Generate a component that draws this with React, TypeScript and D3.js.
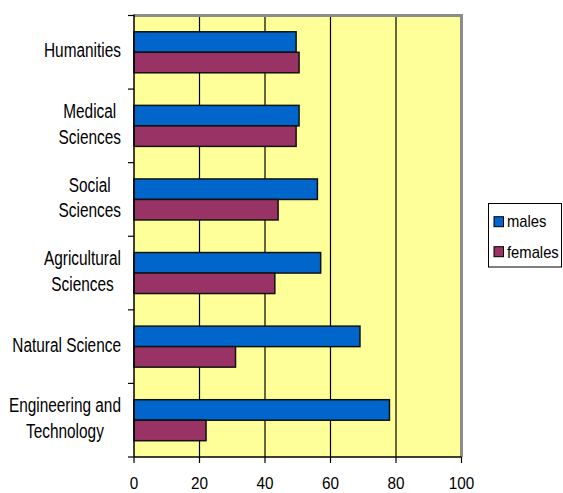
import React from "react";
import * as d3 from "d3";

const categories = [
  "Humanities",
  "Medical Sciences",
  "Social Sciences",
  "Agricultural Sciences",
  "Natural Science",
  "Engineering and Technology",
];
const categoryLines = [
  ["Humanities"],
  ["Medical", "Sciences"],
  ["Social", "Sciences"],
  ["Agricultural", "Sciences"],
  ["Natural Science"],
  ["Engineering and", "Technology"],
];
const males = [49.5, 50.4, 56, 57, 69, 78];
const females = [50.4, 49.5, 44, 43, 31, 22];
const seriesNames = ["males", "females"];
const seriesColors = ["#0066CC", "#993366"];
const xTicks = [0, 20, 40, 60, 80, 100];

const W = 563;
const H = 493;
const left = 134;
const right = 461.5;
const top = 15.5;
const bottom = 457;

const FONT = "'Liberation Sans', Arial, sans-serif";

let canvasCtx: CanvasRenderingContext2D | null = null;
function measure(text: string, size: number): number {
  if (!canvasCtx) {
    const c = document.createElement("canvas");
    canvasCtx = c.getContext("2d");
  }
  if (!canvasCtx) return text.length * size * 0.5;
  canvasCtx.font = `${size}px 'Liberation Sans', Arial, sans-serif`;
  return canvasCtx.measureText(text).width;
}

export default function App() {
  const x = d3.scaleLinear().domain([0, 100]).range([left, right]);
  const y = d3.scaleBand<string>().domain(categories).range([top, bottom]).paddingInner(0).paddingOuter(0);
  const inner = d3
    .scaleBand<string>()
    .domain(seriesNames)
    .range([0, y.bandwidth()])
    .paddingInner(0)
    .paddingOuter(0.795);

  const labelSize = 20;
  const labelScaleX = 0.77;
  const labelRight = 121;
  const lineGap = 25.6;

  const tickSize = 17;
  const tickScaleX = 0.9;

  const legSize = 17;
  const legScaleX = 0.87;

  const data = [males, females];

  return (
    <svg
      width={W}
      height={H}
      style={{ position: "absolute", left: 0, top: 0, background: "#fff" }}
      fontFamily={FONT}
    >
      <rect x={0} y={0} width={W} height={H} fill="#fff" />
      {/* plot area */}
      <rect x={left} y={top} width={right - left} height={bottom - top} fill="#FFFF99" />
      {/* gridlines */}
      {xTicks
        .filter((t) => t > 0 && t < 100)
        .map((t) => (
          <line key={"g" + t} x1={x(t)} x2={x(t)} y1={top} y2={bottom} stroke="#000" strokeWidth={1.2} />
        ))}
      {/* frame top/right */}
      <line x1={left} x2={right + 1.5} y1={top} y2={top} stroke="#8c8c8c" strokeWidth={3} />
      <line x1={right} x2={right} y1={top} y2={bottom} stroke="#8c8c8c" strokeWidth={3} />
      {/* bars */}
      {categories.map((c, i) =>
        seriesNames.map((s, j) => {
          const v = data[j][i];
          return (
            <rect
              key={c + s}
              x={x(0)}
              y={(y(c) as number) + (inner(s) as number)}
              width={x(v) - x(0)}
              height={inner.bandwidth()}
              fill={seriesColors[j]}
              stroke="#111"
              strokeWidth={1.5}
            />
          );
        })
      )}
      {/* axes */}
      <line x1={left} x2={left} y1={top - 1} y2={bottom} stroke="#000" strokeWidth={1.5} />
      <line x1={left} x2={right} y1={bottom} y2={bottom} stroke="#000" strokeWidth={1.5} />
      {/* category ticks */}
      {categories.map((c) => (
        <line key={"ct" + c} x1={left - 6} x2={left} y1={y(c) as number} y2={y(c) as number} stroke="#000" strokeWidth={1.2} />
      ))}
      <line x1={left - 6} x2={left} y1={bottom} y2={bottom} stroke="#000" strokeWidth={1.2} />
      {/* value ticks */}
      {xTicks.map((t) => (
        <g key={"vt" + t}>
          <line x1={x(t)} x2={x(t)} y1={bottom} y2={bottom + 6} stroke="#000" strokeWidth={1.2} />
          <text
            transform={`translate(${x(t)},${489}) scale(${tickScaleX},1)`}
            textAnchor="middle"
            fontSize={tickSize}
            fill="#000"
          >
            {t}
          </text>
        </g>
      ))}
      {/* category labels */}
      {categories.map((c, i) => {
        const lines = categoryLines[i];
        const maxW = d3.max(lines, (l) => measure(l, labelSize) * labelScaleX) as number;
        const cx = labelRight - maxW / 2;
        const center = (y(c) as number) + y.bandwidth() / 2;
        const n = lines.length;
        return lines.map((l, k) => (
          <text
            key={c + k}
            transform={`translate(${cx},${center + 4.9 + (k - (n - 1) / 2) * lineGap}) scale(${labelScaleX},1)`}
            textAnchor="middle"
            fontSize={labelSize}
            fill="#000"
          >
            {l}
          </text>
        ));
      })}
      {/* legend */}
      <rect x={488.5} y={203.5} width={73} height={63.5} fill="#fff" stroke="#000" strokeWidth={1} />
      {seriesNames.map((s, j) => (
        <g key={"leg" + s}>
          <rect
            x={494}
            y={216.7 + j * 30}
            width={9.5}
            height={10}
            fill={seriesColors[j]}
            stroke="#000"
            strokeWidth={1}
          />
          <text
            transform={`translate(507,${226.5 + j * 31}) scale(${legScaleX},1)`}
            fontSize={legSize}
            fill="#000"
          >
            {s}
          </text>
        </g>
      ))}
    </svg>
  );
}
